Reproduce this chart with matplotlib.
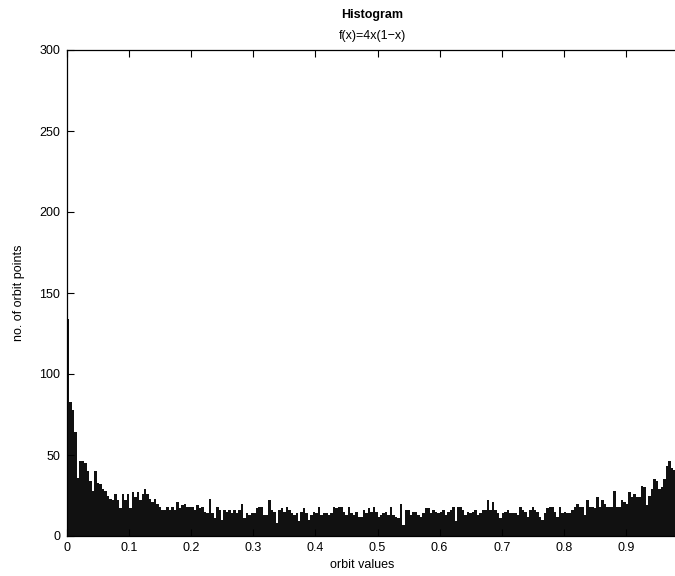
import matplotlib

matplotlib.use("Agg")
import matplotlib.pyplot as plt
import numpy as np

# bin width of the histogram and counts per bin (left to right)
BIN_WIDTH = 0.004
COUNTS = [
    134, 83, 78, 64, 36, 46, 46, 45, 40, 34,
    28, 40, 33, 32, 29, 28, 25, 23, 22, 26,
    22, 17, 26, 22, 26, 17, 27, 24, 27, 22,
    26, 29, 26, 23, 21, 23, 20, 18, 16, 16,
    18, 16, 18, 16, 21, 17, 19, 20, 18, 18,
    18, 16, 19, 17, 18, 15, 14, 23, 14, 11,
    18, 16, 10, 16, 15, 16, 14, 16, 14, 16,
    20, 11, 14, 13, 14, 14, 17, 18, 18, 13,
    13, 22, 16, 15, 8, 16, 17, 15, 18, 16,
    14, 13, 14, 9, 15, 17, 14, 10, 13, 15,
    14, 18, 13, 14, 14, 13, 14, 18, 17, 18,
    18, 15, 13, 18, 14, 13, 15, 12, 12, 16,
    14, 17, 15, 18, 15, 12, 13, 14, 15, 13,
    18, 13, 12, 11, 20, 7, 16, 16, 13, 15,
    15, 13, 12, 14, 17, 17, 14, 16, 15, 14,
    15, 16, 13, 15, 16, 18, 9, 18, 18, 16,
    13, 15, 14, 15, 16, 13, 14, 16, 16, 22,
    16, 21, 16, 14, 11, 14, 15, 16, 14, 14,
    14, 13, 18, 16, 15, 12, 16, 18, 16, 15,
    12, 10, 14, 17, 18, 18, 15, 12, 18, 14,
    15, 14, 14, 16, 18, 20, 18, 18, 13, 22,
    18, 18, 17, 24, 18, 22, 20, 18, 18, 18,
    28, 18, 18, 22, 21, 20, 27, 24, 26, 24,
    24, 31, 30, 19, 25, 29, 35, 34, 29, 30,
    35, 43, 46, 42, 41,
]
# only 0 .. 0.9 are visible; the tick at 1 falls past the cropped right edge
X_TICKS = [0, 0.1, 0.2, 0.3, 0.4, 0.5, 0.6, 0.7, 0.8, 0.9]
X_TICK_LABELS = ["0", "0.1", "0.2", "0.3", "0.4", "0.5", "0.6", "0.7", "0.8", "0.9"]
Y_TICKS = [0, 50, 100, 150, 200, 250, 300]

plt.rcParams["font.family"] = ["Liberation Sans", "DejaVu Sans"]

fig = plt.figure(figsize=(6.75, 5.76), dpi=100)
# the axes run past the right edge of the picture, as in the original
ax = fig.add_axes((67 / 675, 40 / 576, 621 / 675, 486 / 576))

edges = np.arange(len(COUNTS) + 1) * BIN_WIDTH
ax.stairs(COUNTS, edges, fill=True, color="#111111", linewidth=0)

ax.set_xlim(0, 1)
ax.set_ylim(0, 300)
ax.set_xticks(X_TICKS)
ax.set_xticklabels(X_TICK_LABELS)
ax.set_yticks(Y_TICKS)
ax.tick_params(direction="in", length=5, width=0.8, top=True, right=True,
               labelsize=9, pad=4, colors="black")
ax.tick_params(axis="y", pad=5)
for spine in ax.spines.values():
    spine.set_linewidth(0.9)

ax.set_xlabel("orbit values", fontsize=9)
ax.xaxis.set_label_coords(0.475, -0.048)
ax.set_ylabel("no. of orbit points", fontsize=9)
ax.yaxis.set_label_coords(-0.068, 0.5)

fig.text(0.551, 1 - 15 / 576, "Histogram", ha="center", va="center",
         fontsize=9, fontweight="bold")
fig.text(0.551, 1 - 36 / 576, "f(x)=4x(1\u2212x)", ha="center", va="center", fontsize=9)

fig.savefig("out.png", dpi=100)
